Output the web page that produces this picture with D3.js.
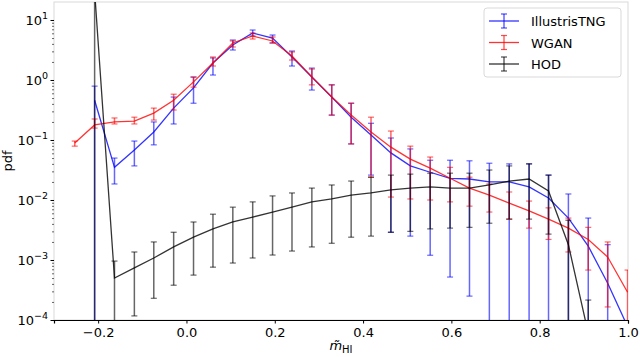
<!DOCTYPE html>
<html>
<head>
<meta charset="utf-8">
<script src="https://cdn.jsdelivr.net/npm/d3@7"></script>
<style>
  body { margin: 0; background: #fff; }
  text { font-family: 'DejaVu Sans', sans-serif; }
</style>
</head>
<body>
<div id="chart-area"></div>
<script>
// set margins, width/height
const margin = { left: 54, right: 12, top: 2, bottom: 37 };
const width = 640 - margin.left - margin.right;
const height = 357 - margin.top - margin.bottom;

// bin centres on the x axis
const binCenters = [
  -0.253, -0.208, -0.163, -0.118, -0.074, -0.029, 0.016, 0.06, 0.105, 0.15,
  0.195, 0.239, 0.284, 0.329, 0.373, 0.418, 0.463, 0.507, 0.552, 0.597,
  0.641, 0.686, 0.731, 0.776, 0.82, 0.865, 0.91, 0.954, 0.999,
];

// IllustrisTNG (blue)
const tngPdf = [
  null, 0.46, 0.035, 0.068, 0.136, 0.34, 0.74, 1.92, 3.83, 6.07,
  5.0, 2.42, 1.12, 0.52, 0.24, 0.121, 0.061, 0.037, 0.029, 0.023,
  0.0224, 0.02, 0.02, 0.0165, 0.0108, 0.005, 0.0017, 0.00041, 0.000078,
];
const tngHi = [
  null, 0.79, 0.05, 0.096, 0.2, 0.52, 1.12, 2.33, 4.64, 6.81,
  5.62, 3.04, 1.58, 0.83, 0.41, 0.19, 0.108, 0.071, 0.046, 0.046,
  0.045, 0.041, 0.04, 0.04, 0.026, 0.0126, 0.005, 0.0018, 0.000078,
];
const tngLo = [
  null, 1e-6, 0.0185, 0.037, 0.083, 0.185, 0.41, 1.21, 3.16, 5.41,
  4.14, 1.71, 0.68, 0.26, 0.086, 0.026, 0.0029, 0.0025, 0.0012, 0.00052,
  0.00025, 1e-6, 1e-6, 1e-6, 1e-6, 1e-6, 1e-6, 1e-6, 0.000078,
];

// WGAN (red)
const wganPdf = [
  0.089, 0.178, 0.2, 0.207, 0.28, 0.46, 0.93, 1.92, 4.14, 5.41,
  4.47, 2.51, 1.12, 0.52, 0.26, 0.136, 0.076, 0.048, 0.034, 0.023,
  0.0158, 0.0121, 0.0089, 0.0066, 0.0048, 0.0034, 0.0022, 0.00112, 0.00029,
];
const wganHi = [
  0.096, 0.224, 0.233, 0.24, 0.34, 0.58, 1.12, 2.42, 4.47, 6.07,
  5.21, 2.93, 1.52, 0.83, 0.41, 0.24, 0.141, 0.079, 0.052, 0.035,
  0.024, 0.0185, 0.0136, 0.0096, 0.0074, 0.005, 0.0035, 0.002, 0.00068,
];
const wganLo = [
  0.079, 0.158, 0.185, 0.185, 0.215, 0.316, 0.76, 1.71, 3.55, 4.82,
  4.14, 2.15, 0.83, 0.26, 0.086, 0.024, 0.0112, 0.0104, 0.01, 0.0093,
  0.0079, 0.0063, 0.0048, 0.0034, 0.0022, 0.00136, 0.00068, 0.000165, 1e-6,
];

// HOD (black)
const hodPdf = [
  null, 30, 0.0005, 0.00074, 0.00108, 0.00165, 0.0024, 0.0033, 0.0043, 0.0052,
  0.0063, 0.0076, 0.0093, 0.0104, 0.0121, 0.0131, 0.0147, 0.0158, 0.0165, 0.0158,
  0.0158, 0.0178, 0.0207, 0.0224, 0.0141, 0.0018, 0.00006, null, null,
];
const hodHi = [
  null, 1000, 0.00096, 0.00136, 0.002, 0.0029, 0.0043, 0.0058, 0.0076, 0.0093,
  0.0117, 0.0131, 0.0158, 0.0178, 0.0207, 0.024, 0.026, 0.027, 0.028, 0.028,
  0.028, 0.0316, 0.037, 0.04, 0.026, 0.0046, 0.000215, null, null,
];
const hodLo = [
  null, 1e-6, 1e-6, 0.000117, 0.00023, 0.00038, 0.00056, 0.00076, 0.00089, 0.00108,
  0.00121, 0.00141, 0.00165, 0.0019, 0.0024, 0.0025, 0.0029, 0.003, 0.0033, 0.0034,
  0.0035, 0.0041, 0.0048, 0.0048, 0.0027, 1e-6, 1e-6, null, null,
];

const seriesNames = ['IllustrisTNG', 'WGAN', 'HOD'];
const seriesColors = ['#0000ff', '#ff0000', '#000000'];
const xTicks = [-0.2, 0.0, 0.2, 0.4, 0.6, 0.8, 1.0];
const yTicks = [-4, -3, -2, -1, 0, 1];

const series = [
  { name: seriesNames[0], color: seriesColors[0], pdf: tngPdf, lo: tngLo, hi: tngHi },
  { name: seriesNames[1], color: seriesColors[1], pdf: wganPdf, lo: wganLo, hi: wganHi },
  { name: seriesNames[2], color: seriesColors[2], pdf: hodPdf, lo: hodLo, hi: hodHi },
];

const svg = d3
  .select('#chart-area')
  .append('svg')
  .attr('width', 640)
  .attr('height', 357);

const g = svg
  .append('g')
  .attr('transform', `translate(${margin.left}, ${margin.top})`);

// Scales
const x = d3.scaleLinear().domain([-0.3, 1.0]).range([0, width]);
const y = d3.scaleLog().domain([1e-4, 19.95]).range([height, 0]);

g.append('clipPath')
  .attr('id', 'plot-clip')
  .append('rect')
  .attr('width', width)
  .attr('height', height);

// frame: light grey on three sides, black bottom
g.append('rect')
  .attr('width', width)
  .attr('height', height)
  .attr('fill', 'none')
  .attr('stroke', '#d9d9d9')
  .attr('stroke-width', 1);

const plot = g.append('g').attr('clip-path', 'url(#plot-clip)');

const line = d3
  .line()
  .defined((d) => d.v != null)
  .x((d) => x(d.x))
  .y((d) => y(d.v));

series.forEach((s) => {
  const pts = binCenters.map((bx, i) => ({
    x: bx,
    v: s.pdf[i],
    lo: s.lo[i],
    hi: s.hi[i],
  }));
  const valid = pts.filter((d) => d.v != null);

  const eb = plot.append('g').attr('stroke', s.color).attr('stroke-opacity', 0.6);
  eb.selectAll('.bar')
    .data(valid)
    .enter()
    .append('line')
    .attr('x1', (d) => x(d.x))
    .attr('x2', (d) => x(d.x))
    .attr('y1', (d) => y(d.hi))
    .attr('y2', (d) => y(d.lo))
    .attr('stroke-width', 1.5);
  ['hi', 'lo'].forEach((k) => {
    eb.selectAll('.cap-' + k)
      .data(valid)
      .enter()
      .append('line')
      .attr('x1', (d) => x(d.x) - 3)
      .attr('x2', (d) => x(d.x) + 3)
      .attr('y1', (d) => y(d[k]))
      .attr('y2', (d) => y(d[k]))
      .attr('stroke-width', 1.2);
  });

  plot.append('path')
    .datum(pts)
    .attr('fill', 'none')
    .attr('stroke', s.color)
    .attr('stroke-opacity', 0.8)
    .attr('stroke-width', 1.3)
    .attr('d', line);
});

// X axis
const xAxisCall = d3
  .axisBottom(x)
  .tickValues(xTicks)
  .tickSize(3.5)
  .tickPadding(4)
  .tickFormat(d3.format('.1f'));

const xAxis = g
  .append('g')
  .attr('class', 'x axis')
  .attr('transform', `translate(0, ${height})`)
  .call(xAxisCall);
xAxis.select('.domain').attr('stroke', '#000').attr('stroke-width', 1.2);
xAxis.selectAll('text').attr('font-size', 13).attr('fill', '#000');

// Y axis major ticks
const yAxis = g
  .append('g')
  .attr('class', 'y axis')
  .call(d3.axisLeft(y).tickValues(yTicks.map((e) => Math.pow(10, e))).tickSize(3.5).tickFormat(''));
yAxis.select('.domain').remove();

// minor ticks
const minors = [];
yTicks.forEach((e) => {
  for (let m = 2; m <= 9; m++) {
    const v = m * Math.pow(10, e);
    if (v < 19.95) minors.push(v);
  }
});
const yMinor = g
  .append('g')
  .call(d3.axisLeft(y).tickValues(minors).tickSize(2).tickFormat(''));
yMinor.select('.domain').remove();
yMinor.selectAll('line').attr('stroke-width', 0.6);

// y tick labels as 10^e
const yLab = g
  .selectAll('.ylab')
  .data(yTicks)
  .enter()
  .append('text')
  .attr('class', 'ylab')
  .attr('x', -6)
  .attr('y', (d) => y(Math.pow(10, d)) + 5)
  .attr('text-anchor', 'end')
  .attr('font-size', 13);
yLab.append('tspan').text('10');
yLab.append('tspan')
  .attr('dy', -6)
  .attr('font-size', 9.5)
  .text((d) => (d < 0 ? '\u2212' + Math.abs(d) : String(d)));

// axis titles
const xt = svg
  .append('text')
  .attr('x', 341)
  .attr('y', 350)
  .attr('text-anchor', 'middle')
  .attr('font-size', 13);
xt.append('tspan').attr('font-style', 'italic').text('m\u0303');
xt.append('tspan').attr('dy', 3).attr('font-size', 10).text('HI');

svg.append('text')
  .attr('transform', 'translate(12, 161) rotate(-90)')
  .attr('text-anchor', 'middle')
  .attr('font-size', 13)
  .text('pdf');

// Legend
const legend = svg.append('g').attr('transform', 'translate(484, 8)');
legend.append('rect')
  .attr('width', 137)
  .attr('height', 69)
  .attr('rx', 3)
  .attr('fill', '#fff')
  .attr('fill-opacity', 0.8)
  .attr('stroke', '#d9d9d9');

series.forEach((s, i) => {
  const row = legend.append('g').attr('transform', `translate(0, ${13 + i * 21.5})`);
  row.append('line')
    .attr('x1', 5).attr('x2', 35)
    .attr('stroke', s.color).attr('stroke-opacity', 0.8).attr('stroke-width', 1.3);
  row.append('line')
    .attr('x1', 20).attr('x2', 20).attr('y1', -7).attr('y2', 7)
    .attr('stroke', s.color).attr('stroke-opacity', 0.7).attr('stroke-width', 1.3);
  [-7, 7].forEach((cy) => {
    row.append('line')
      .attr('x1', 17).attr('x2', 23).attr('y1', cy).attr('y2', cy)
      .attr('stroke', s.color).attr('stroke-opacity', 0.7).attr('stroke-width', 1.2);
  });
  row.append('text')
    .attr('x', 47)
    .attr('y', 5)
    .attr('font-size', 13)
    .text(s.name);
});
</script>
</body>
</html>
